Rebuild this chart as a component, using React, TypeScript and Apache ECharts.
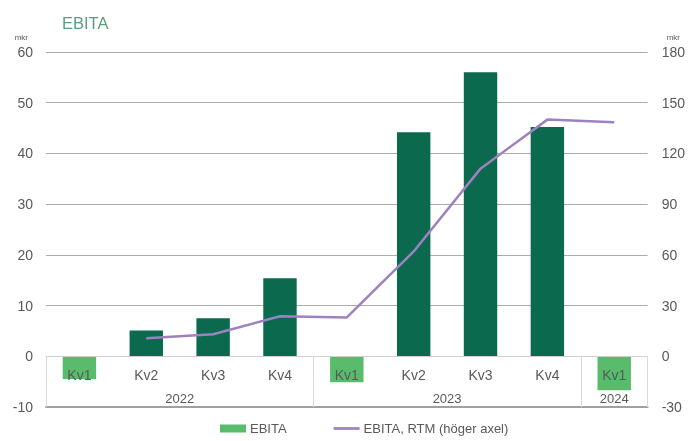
import React, { useEffect, useRef } from "react";
import * as echarts from "echarts";

const quarters = ["Kv1", "Kv2", "Kv3", "Kv4", "Kv1", "Kv2", "Kv3", "Kv4", "Kv1"];
const ebita = [-4.5, 5.1, 7.5, 15.4, -5.1, 44.2, 56.0, 45.2, -6.7];
const ebitaRtm: (number | null)[] = [null, 10.6, 13, 23.7, 23, 62, 111, 140, 138.5];
const years = ["2022", "2023", "2024"];
const yearCenters = [2, 6, 8.5];
const yearBounds = [0, 4, 8, 9];

const DARK = "#0b6a4e";
const LIGHT = "#58bc6c";
const PURPLE = "#9e82c0";
const TXT = "#595959";
const FONT = "Liberation Sans";

export default function App() {
  const ref = useRef<HTMLDivElement>(null);
  useEffect(() => {
    const chart = echarts.init(ref.current!, undefined, { renderer: "svg" });
    chart.setOption({
      animation: false,
      textStyle: { fontFamily: FONT },
      title: {
        text: "EBITA",
        left: 57,
        top: 9,
        textStyle: { fontSize: 16.5, fontWeight: "normal", color: "#5a9e80", fontFamily: FONT },
      },
      grid: { left: 46, right: 35, top: 52, bottom: 34 },
      legend: {
        bottom: 1,
        left: 215,
        itemGap: 47,
        itemWidth: 26,
        itemHeight: 8,
        textStyle: { fontSize: 13, color: TXT, fontFamily: FONT, padding: [0, 0, 0, -1] },
        data: [
          { name: "EBITA", icon: "rect" },
          { name: "EBITA, RTM (höger axel)", icon: "path://M0,0H28V3H0Z" },
        ],
      },
      xAxis: [
        {
          type: "category",
          data: quarters,
          position: "bottom",
          offset: -51,
          z: 10,
          axisLine: { onZero: false, lineStyle: { color: "#d0d0d0", width: 1 } },
          axisTick: { show: false },
          axisLabel: { margin: 12, fontSize: 14, color: TXT, fontFamily: FONT },
        },
        {
          type: "value",
          min: 0,
          max: 9,
          position: "bottom",
          z: 10,
          splitLine: { show: false },
          axisLine: { onZero: false, lineStyle: { color: "#a0a0a0", width: 2 } },
          axisTick: {
            show: true,
            inside: true,
            length: 51,
            customValues: yearBounds,
            lineStyle: { color: "#d9d9d9", width: 1 },
          },
          axisLabel: {
            inside: true,
            margin: 2,
            fontSize: 13,
            color: TXT,
            fontFamily: FONT,
            customValues: yearCenters,
            formatter: (v: number) => {
              const i = yearCenters.indexOf(v);
              return i >= 0 ? years[i] : "";
            },
          },
        },
      ],
      yAxis: [
        {
          type: "value",
          min: -10,
          max: 60,
          interval: 10,
          name: "mkr",
          nameGap: 11,
          nameTextStyle: { fontSize: 8, color: TXT, align: "right", padding: [0, 18, 0, 0] },
          axisLine: { show: false, onZero: false },
          axisTick: { show: false },
          splitLine: { lineStyle: { color: "#acacac", width: 1 } },
          axisLabel: { margin: 13, fontSize: 14, color: TXT, fontFamily: FONT },
        },
        {
          type: "value",
          min: -30,
          max: 180,
          interval: 30,
          name: "mkr",
          nameGap: 11,
          nameTextStyle: { fontSize: 8, color: TXT, align: "left", padding: [0, 0, 0, 19] },
          axisLine: { show: false, onZero: false },
          axisTick: { show: false },
          splitLine: { show: false },
          axisLabel: { margin: 14, fontSize: 14, color: TXT, fontFamily: FONT },
        },
      ],
      series: [
        {
          name: "EBITA",
          type: "bar",
          barWidth: "50%",
          color: LIGHT,
          data: ebita.map((v) => ({ value: v, itemStyle: { color: v < 0 ? LIGHT : DARK } })),
        },
        {
          name: "EBITA, RTM (höger axel)",
          type: "line",
          yAxisIndex: 1,
          symbol: "none",
          color: PURPLE,
          lineStyle: { width: 2.5, color: PURPLE },
          data: ebitaRtm,
        },
      ],
    });
    return () => chart.dispose();
  }, []);
  return (
    <div
      ref={ref}
      style={{ position: "fixed", left: 0, top: 0, width: 688, height: 441 }}
    />
  );
}
